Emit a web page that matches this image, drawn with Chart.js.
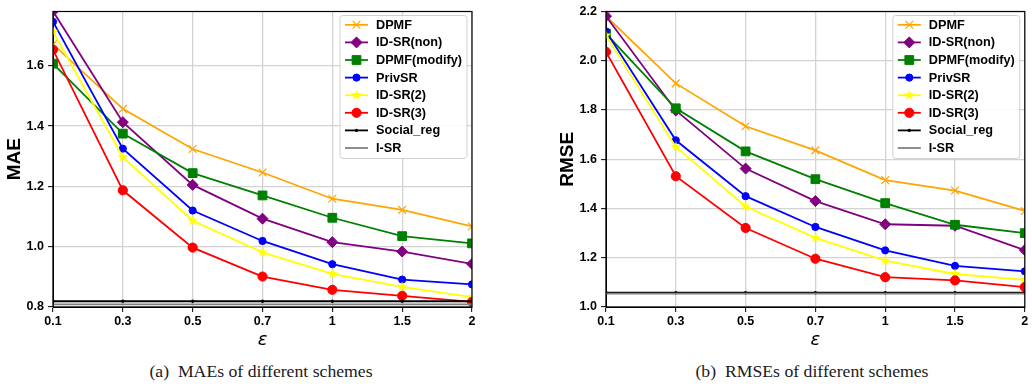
<!DOCTYPE html>
<html>
<head>
<meta charset="utf-8">
<script src="https://cdn.jsdelivr.net/npm/chart.js@4/dist/chart.umd.min.js"></script>
<style>
  body { margin: 0; background: #fff; width: 1032px; height: 386px; position: relative; overflow: hidden; }
  canvas { position: absolute; top: 0; }
  #maeChart { left: 0; }
  #rmseChart { left: 520px; }
  .caption {
    position: absolute; top: 360px; width: 400px; height: 22px; line-height: 22px;
    text-align: center; font-family: "Liberation Serif", "DejaVu Serif", serif;
    font-size: 17.7px; color: #1a1a1a; white-space: pre;
  }
</style>
</head>
<body>
<canvas id="maeChart" width="480" height="351"></canvas>
<canvas id="rmseChart" width="512" height="351"></canvas>
<div class="caption" style="left:61px">(a)  MAEs of different schemes</div>
<div class="caption" style="left:612px">(b)  RMSEs of different schemes</div>
<script>
const epsLabels = ["0.1", "0.3", "0.5", "0.7", "1", "1.5", "2"];
const seriesNames = ["DPMF", "ID-SR(non)", "DPMF(modify)", "PrivSR", "ID-SR(2)", "ID-SR(3)", "Social_reg", "I-SR"];

// MAE panel
const maeDPMF = [1.671, 1.457, 1.324, 1.246, 1.159, 1.122, 1.067];
const maeIdsrNon = [1.781, 1.413, 1.205, 1.093, 1.015, 0.984, 0.943];
const maeDPMFModify = [1.607, 1.375, 1.244, 1.170, 1.096, 1.035, 1.011];
const maePrivSR = [1.746, 1.325, 1.120, 1.019, 0.942, 0.891, 0.875];
const maeIdsr2 = [1.713, 1.297, 1.086, 0.981, 0.910, 0.867, 0.833];
const maeIdsr3 = [1.653, 1.187, 0.997, 0.901, 0.857, 0.837, 0.817];
const maeSocialReg = [0.819, 0.819, 0.819, 0.819, 0.819, 0.819, 0.819];
const maeISR = [0.809, 0.809, 0.809, 0.809, 0.809, 0.809, 0.809];
const maeTicks = [0.8, 1.0, 1.2, 1.4, 1.6];

// RMSE panel
const rmseDPMF = [2.181, 1.908, 1.734, 1.636, 1.515, 1.473, 1.390];
const rmseIdsrNon = [2.181, 1.798, 1.562, 1.430, 1.336, 1.330, 1.231];
const rmseDPMFModify = [2.110, 1.807, 1.632, 1.519, 1.422, 1.334, 1.300];
const rmsePrivSR = [2.119, 1.677, 1.450, 1.325, 1.230, 1.167, 1.145];
const rmseIdsr2 = [2.103, 1.650, 1.408, 1.281, 1.188, 1.134, 1.110];
const rmseIdsr3 = [2.036, 1.531, 1.321, 1.196, 1.121, 1.108, 1.081];
const rmseSocialReg = [1.058, 1.058, 1.058, 1.058, 1.058, 1.058, 1.058];
const rmseISR = [1.054, 1.054, 1.054, 1.054, 1.054, 1.054, 1.054];
const rmseTicks = [1.0, 1.2, 1.4, 1.6, 1.8, 2.0, 2.2];

function makeStar(r, color) {
    const c = document.createElement("canvas");
    const s = Math.ceil(r * 2) + 2;
    c.width = s;
    c.height = s;
    const g = c.getContext("2d");
    g.beginPath();
    for (let i = 0; i < 10; i++) {
        const a = -Math.PI / 2 + i * Math.PI / 5;
        const rr = i % 2 ? r * 0.42 : r;
        g.lineTo(s / 2 + rr * Math.cos(a), s / 2 + rr * Math.sin(a));
    }
    g.closePath();
    g.fillStyle = color;
    g.fill();
    return c;
}

const starImg = makeStar(5.6, "#ffff00");

const seriesStyles = [
    { color: "#ffa500", pointStyle: "crossRot", radius: 5.5, pointBorderWidth: 1.2 },
    { color: "#800080", pointStyle: "rectRot", radius: 5.5, pointBorderWidth: 1 },
    { color: "#008000", pointStyle: "rect", radius: 6.2, pointBorderWidth: 1 },
    { color: "#0000ff", pointStyle: "circle", radius: 3.6, pointBorderWidth: 1 },
    { color: "#ffff00", pointStyle: starImg, radius: 5.5, pointBorderWidth: 0 },
    { color: "#ff0000", pointStyle: "circle", radius: 4.6, pointBorderWidth: 1 },
    { color: "#000000", pointStyle: "circle", radius: 1.7, pointBorderWidth: 0 },
    { color: "#808080", pointStyle: "circle", radius: 0, pointBorderWidth: 0 },
];

function buildDatasets(seriesValues) {
    return seriesValues.map((values, i) => {
        const st = seriesStyles[i];
        return {
            label: seriesNames[i],
            data: values,
            borderColor: st.color,
            backgroundColor: st.color,
            borderWidth: 1.8,
            pointStyle: st.pointStyle,
            pointRadius: st.radius,
            pointHoverRadius: st.radius,
            pointBackgroundColor: st.color,
            pointBorderColor: st.color,
            pointBorderWidth: st.pointBorderWidth,
            tension: 0,
            fill: false,
            clip: 0,
            order: 20 - i,
        };
    });
}

const framePlugin = {
    id: "framePlugin",
    afterDatasetsDraw(chart) {
        const { ctx, chartArea } = chart;
        ctx.save();
        ctx.strokeStyle = "#000";
        ctx.lineWidth = 1.2;
        ctx.strokeRect(chartArea.left, chartArea.top, chartArea.right - chartArea.left, chartArea.bottom - chartArea.top);
        ctx.restore();
    },
};

const legendBoxPlugin = {
    id: "legendBoxPlugin",
    afterDraw(chart) {
        const { ctx, chartArea } = chart;
        const boxW = 127, boxH = 143;
        const left = chartArea.right - 5 - boxW;
        const top = chartArea.top + 4;
        ctx.save();
        ctx.beginPath();
        ctx.roundRect(left, top, boxW, boxH, 3);
        ctx.fillStyle = "rgba(255,255,255,0.85)";
        ctx.fill();
        ctx.strokeStyle = "#d0d0d0";
        ctx.lineWidth = 1;
        ctx.stroke();

        chart.data.datasets.forEach((ds, i) => {
            const y = top + 9.3 + i * 17.6;
            const x1 = left + 5, x2 = left + 28;
            ctx.strokeStyle = ds.borderColor;
            ctx.lineWidth = ds.borderWidth;
            ctx.beginPath();
            ctx.moveTo(x1, y);
            ctx.lineTo(x2, y);
            ctx.stroke();
            if (ds.pointRadius > 0) {
                ctx.fillStyle = ds.pointBackgroundColor;
                ctx.strokeStyle = ds.pointBorderColor;
                ctx.lineWidth = ds.pointBorderWidth;
                Chart.helpers.drawPoint(ctx, {
                    pointStyle: ds.pointStyle,
                    radius: ds.pointRadius,
                    borderWidth: ds.pointBorderWidth,
                    rotation: 0,
                }, (x1 + x2) / 2, y);
            }
            ctx.fillStyle = "#000";
            ctx.font = "bold 12.7px 'Liberation Sans', Arial, sans-serif";
            ctx.textAlign = "left";
            ctx.textBaseline = "middle";
            ctx.fillText(ds.label, left + 36, y + 0.5);
        });
        ctx.restore();
    },
};

const tickFont = { family: "'Liberation Sans', Arial, sans-serif", size: 12.5, weight: "bold" };
const gridOpts = { color: "#d3d3d3", lineWidth: 1.3, tickColor: "#000", tickWidth: 1, tickLength: 5 };

function makeChart(canvasId, padLeft, padRight, yTitle, yMin, yMax, yTicks, seriesValues) {
    return new Chart(document.getElementById(canvasId), {
        type: "line",
        data: {
            labels: epsLabels,
            datasets: buildDatasets(seriesValues),
        },
        options: {
            responsive: false,
            animation: false,
            events: [],
            layout: { padding: { top: 10, right: padRight, left: padLeft, bottom: 0 } },
            plugins: {
                legend: { display: false },
                tooltip: { enabled: false },
            },
            scales: {
                x: {
                    offset: false,
                    grid: gridOpts,
                    border: { color: "#000", width: 1 },
                    ticks: { color: "#000", font: tickFont, padding: 2, maxRotation: 0, autoSkip: false },
                    title: {
                        display: true,
                        text: "ε",
                        color: "#000",
                        font: { family: "'DejaVu Sans', sans-serif", size: 18, style: "italic" },
                        padding: { top: 0, bottom: 0 },
                    },
                    afterFit(scale) {
                        scale.height = 44;
                    },
                },
                y: {
                    min: yMin,
                    max: yMax,
                    grid: gridOpts,
                    border: { color: "#000", width: 1 },
                    ticks: {
                        color: "#000",
                        font: tickFont,
                        padding: 4,
                        callback: (v) => Number(v).toFixed(1),
                    },
                    title: {
                        display: true,
                        text: yTitle,
                        color: "#000",
                        font: { family: "'Liberation Sans', Arial, sans-serif", size: 19, weight: "bold" },
                        padding: { top: 3, bottom: 0 },
                    },
                    afterBuildTicks(scale) {
                        scale.ticks = yTicks.map((v) => ({ value: v }));
                    },
                    afterFit(scale) {
                        scale.width = 53;
                    },
                },
            },
        },
        plugins: [framePlugin, legendBoxPlugin],
    });
}

makeChart("maeChart", 0, 8, "MAE", 0.8, 1.78, maeTicks,
    [maeDPMF, maeIdsrNon, maeDPMFModify, maePrivSR, maeIdsr2, maeIdsr3, maeSocialReg, maeISR]);

makeChart("rmseChart", 33, 7, "RMSE", 1.0, 2.2, rmseTicks,
    [rmseDPMF, rmseIdsrNon, rmseDPMFModify, rmsePrivSR, rmseIdsr2, rmseIdsr3, rmseSocialReg, rmseISR]);
</script>
</body>
</html>
